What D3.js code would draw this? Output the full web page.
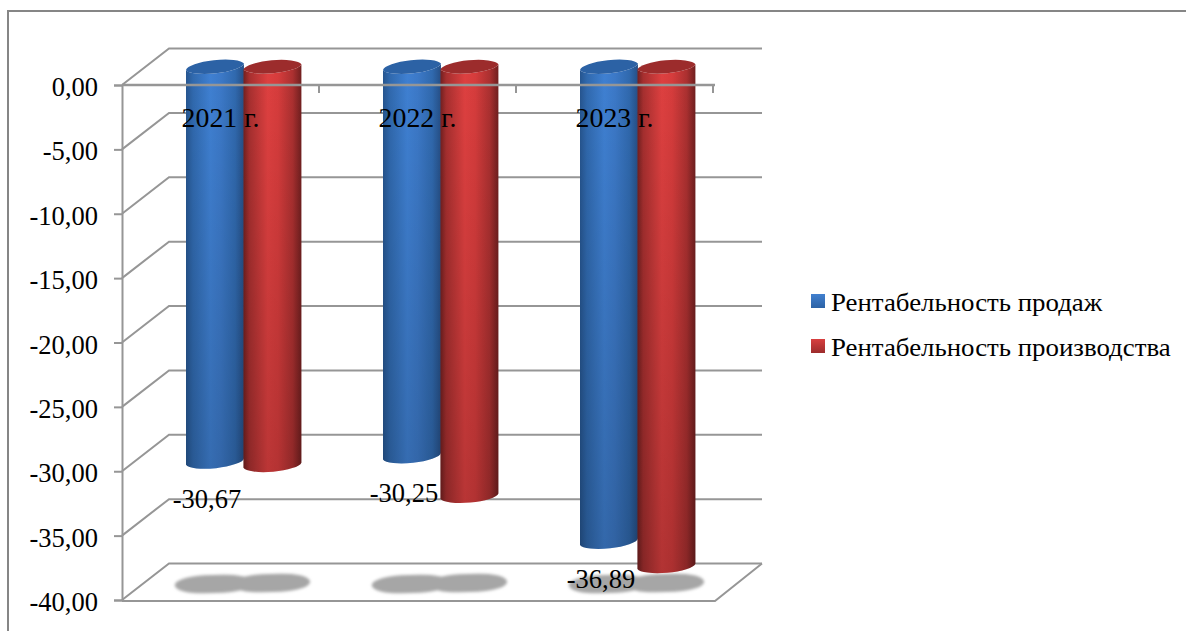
<!DOCTYPE html>
<html><head><meta charset="utf-8">
<script src="https://cdn.jsdelivr.net/npm/d3@7"></script>
<style>
html,body{margin:0;padding:0;background:#fff}
svg{display:block}
text{font-family:"Liberation Serif",serif;fill:#000}
</style></head><body>
<svg id="c" width="1186" height="631"></svg>
<script>
const categories = ["2021 г.", "2022 г.", "2023 г."];
const seriesNames = ["Рентабельность продаж", "Рентабельность производства"];
const salesMargin = [-30.67, -30.25, -36.89];
const productionMargin = [-30.95, -33.35, -38.8];
const tickValues = [0, -5, -10, -15, -20, -25, -30, -35, -40];

const svg = d3.select("#c");
const defs = svg.append("defs");
const W = 1186, H = 631;
const depthX = 47, depthY = -36.5;
const y = d3.scaleLinear().domain([0, -40]).range([85, 600]);
const x = d3.scaleBand().domain(categories).range([122, 713]);
const inner = d3.scaleBand().domain([0, 1]).range([40.5, 155.4]);
const locale = d3.formatLocale({decimal: ",", thousands: " ", grouping: [3], currency: ["", ""], minus: "-"});
const fmt = locale.format(".2f");
const gridColor = "#969696";

// widen text horizontally about its anchor, the reference is a stretched picture
function stretch(sel, k) {
  sel.each(function () {
    const t = d3.select(this), ax = +t.attr("x") || 0;
    t.attr("transform", `translate(${ax},0) scale(${k},1) translate(${-ax},0)`);
  });
}

// frame
svg.append("path").attr("d", `M8,${H}V11H${W}`).attr("fill", "none").attr("stroke", "#868686").attr("stroke-width", 2);

// gradients
function cyl(id, stops) {
  const g = defs.append("linearGradient").attr("id", id).attr("x1", 0).attr("x2", 1).attr("y1", 0).attr("y2", 0);
  stops.forEach(s => g.append("stop").attr("offset", s[0]).attr("stop-color", s[1]));
}
cyl("cyl0", [[0, "#26558f"], [.12, "#3069ae"], [.42, "#3f80d2"], [.6, "#3c79c8"], [.85, "#3069ae"], [1, "#264f86"]]);
cyl("cyl1", [[0, "#722020"], [.1, "#a62f2f"], [.42, "#de4040"], [.6, "#d63c3c"], [.85, "#ab3030"], [1, "#701f1f"]]);
const shade = defs.append("linearGradient").attr("id", "shade").attr("gradientUnits", "userSpaceOnUse")
  .attr("x1", 0).attr("x2", 0).attr("y1", 70).attr("y2", 575);
shade.append("stop").attr("offset", 0).attr("stop-color", "#000").attr("stop-opacity", 0);
shade.append("stop").attr("offset", 1).attr("stop-color", "#000").attr("stop-opacity", .2);
[["sw0", "#4180cf", "#2c62a5"], ["sw1", "#d83f3f", "#9c2c2c"]].forEach(d => {
  const g = defs.append("linearGradient").attr("id", d[0]).attr("x1", 0).attr("x2", 0).attr("y1", 0).attr("y2", 1);
  g.append("stop").attr("offset", 0).attr("stop-color", d[1]);
  g.append("stop").attr("offset", 1).attr("stop-color", d[2]);
});
defs.append("filter").attr("id", "blur").attr("x", "-20%").attr("y", "-40%").attr("width", "140%").attr("height", "180%")
  .append("feGaussianBlur").attr("stdDeviation", 1.5);

// walls and gridlines
const walls = svg.append("g").attr("fill", "none").attr("stroke", gridColor).attr("stroke-width", 2);
walls.selectAll("path.g").data(tickValues).join("path").attr("class", "g")
  .attr("d", v => `M${x.range()[0]},${y(v)}l${depthX},${depthY}H${x.range()[1] + depthX + 2}`);
walls.append("path")
  .attr("d", `M${x.range()[1] + depthX + 2},${y(-40) + depthY}L${x.range()[1] + 2},${y(-40) + 1}H${x.range()[0]}`);

// floor shadows
const shadows = svg.append("g").attr("filter", "url(#blur)").attr("fill", "#a6a6a6");
categories.forEach(c => {
  [0, 1].forEach(i => {
    const cx = x(c) + inner(i) + inner.bandwidth() / 2 + depthX / 2 - 1;
    shadows.append("rect").attr("x", cx - 39).attr("y", y(-40) - 25 - i).attr("width", 78).attr("height", 18)
      .attr("rx", 30).attr("ry", 9)
      .attr("transform", `rotate(-2 ${cx} ${y(-40) - 16})`);
  });
});

// cylinders
const rows = [];
[salesMargin, productionMargin].forEach((vals, s) => vals.forEach((v, i) => rows.push({s, c: categories[i], v})));
const bars = svg.append("g");
rows.sort((a, b) => a.s - b.s).forEach(d => {
  const bw = inner.bandwidth();
  const lx = x(d.c) + inner(d.s) + depthX / 2;
  const rx = lx + bw + 0.5;
  const t = d.s ? 2.6 : 3.2;
  const top = y(0) + depthY / 2, bot = y(d.v) + depthY / 2;
  const r = bw / 2 + .6, ry = 7.4;
  const angle = d.s ? -5 : -6;
  const body = `M${lx},${top + t}L${lx},${bot + t}A${r},${ry} ${angle} 0 0 ${rx},${bot - t}L${rx},${top - t}A${r},${ry} ${angle} 0 1 ${lx},${top + t}Z`;
  const cap = `M${lx},${top + t}A${r},${ry} ${angle} 0 1 ${rx},${top - t}A${r},${ry} ${angle} 0 1 ${lx},${top + t}Z`;
  bars.append("path").attr("d", body).attr("fill", `url(#cyl${d.s})`);
  bars.append("path").attr("d", body).attr("fill", "url(#shade)");
  bars.append("path").attr("d", cap).attr("fill", d.s ? "#9c2c2c" : "#2c62a5");
});

// front axis
const axisG = svg.append("g").attr("transform", `translate(${x.range()[0]},0)`)
  .call(d3.axisLeft(y).tickValues(tickValues).tickFormat(fmt).tickSize(8).tickPadding(16));
axisG.selectAll("path,line").attr("stroke", gridColor).attr("stroke-width", 2);
axisG.selectAll("text").style("font-family", '"Liberation Serif",serif').style("font-size", "26.5px").attr("fill", "#000").attr("dy", "0.4em");
axisG.attr("font-size", null).attr("font-family", null);

svg.append("path").attr("d", `M${x.range()[0]},${y(0)}H${x.range()[1] + 2}`).attr("stroke", gridColor).attr("stroke-width", 2.5);
svg.append("g").selectAll("line").data(categories).join("line")
  .attr("x1", c => x(c) + x.bandwidth()).attr("x2", c => x(c) + x.bandwidth())
  .attr("y1", y(0)).attr("y2", y(0) + 8).attr("stroke", gridColor).attr("stroke-width", 2);

// category labels
svg.append("g").selectAll("text").data(categories).join("text")
  .attr("x", c => x(c) + x.bandwidth() / 2).attr("y", y(0) + 42)
  .attr("text-anchor", "middle").attr("font-size", 26.5).text(c => c).call(stretch, 1.05);

// data labels
svg.append("g").selectAll("text").data(salesMargin).join("text")
  .attr("x", (v, i) => x(categories[i]) + 85).attr("y", v => y(v) + 28)
  .attr("text-anchor", "middle").attr("font-size", 26.5).text(v => fmt(v));

// legend
const legend = svg.append("g").selectAll("g").data(seriesNames).join("g")
  .attr("transform", (n, i) => `translate(811,${294 + i * 45})`);
legend.append("rect").attr("width", 14).attr("height", 14).attr("fill", (n, i) => `url(#sw${i})`);
legend.append("text").attr("x", 20).attr("y", 17).attr("font-size", 25).text(n => n).call(stretch, 1.074);
</script>
</body></html>
